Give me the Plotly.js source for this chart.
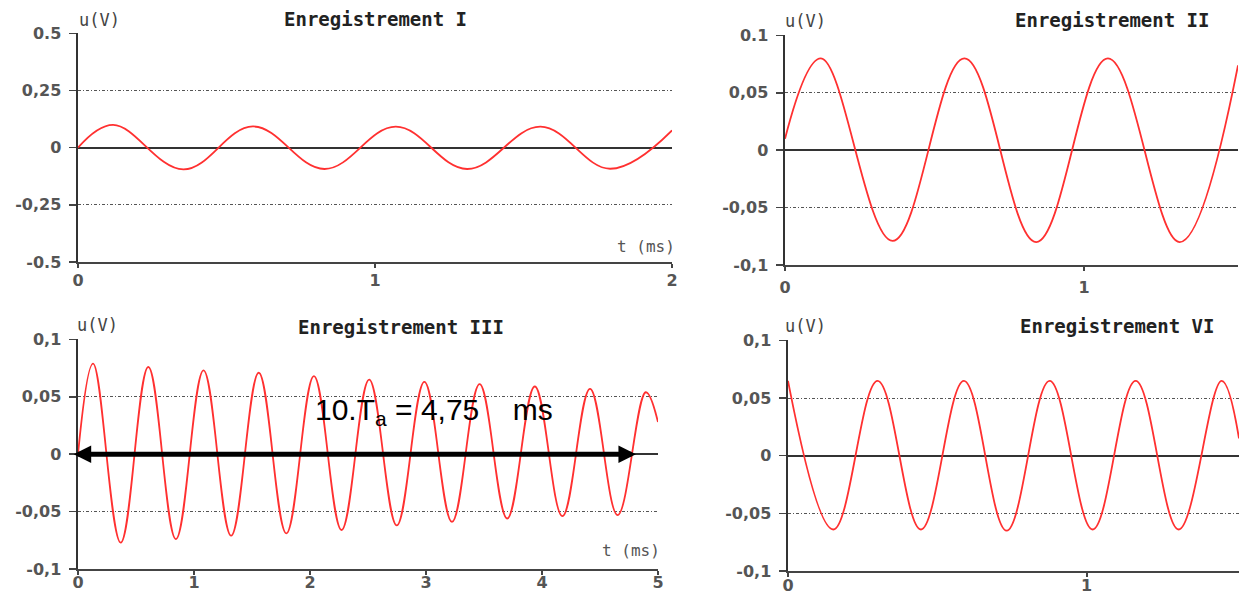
<!DOCTYPE html>
<html>
<head>
<meta charset="utf-8">
<script src="https://cdn.plot.ly/plotly-3.0.1.min.js"></script>
<style>html,body{margin:0;padding:0;background:#fff}#chart{width:1240px;height:594px}</style>
</head>
<body>
<div id="chart"></div>
<script>
// ---- Data: extrema of each recording (t in ms, u in V) ----
const tI  = [0, 0.118, 0.355, 0.589, 0.83, 1.07, 1.31, 1.557, 1.792, 2.0];
const uI  = [0, 0.100, -0.095, 0.093, -0.093, 0.092, -0.093, 0.092, -0.092, 0.076];

const tII = [0, 0.12, 0.36, 0.60, 0.84, 1.08, 1.32, 1.515];
const uII = [0.01, 0.080, -0.079, 0.080, -0.080, 0.080, -0.080, 0.074];

const tIII = [0, 0.13, 0.368, 0.606, 0.844, 1.082, 1.32, 1.558, 1.796, 2.034, 2.272, 2.51, 2.748, 2.986, 3.224, 3.462, 3.70, 3.938, 4.176, 4.414, 4.652, 4.895, 5.0];
const uIII = [0, 0.079, -0.077, 0.076, -0.074, 0.073, -0.071, 0.071, -0.069, 0.068, -0.066, 0.065, -0.062, 0.063, -0.059, 0.061, -0.056, 0.059, -0.054, 0.057, -0.053, 0.054, 0.028];

const tVI = [0, 0.152, 0.30, 0.445, 0.589, 0.732, 0.876, 1.02, 1.164, 1.308, 1.452, 1.51];
const uVI = [0.065, -0.064, 0.065, -0.064, 0.065, -0.065, 0.065, -0.064, 0.065, -0.064, 0.065, 0.015];

// tick values / labels
const xTicksI = [0, 1, 2];
const xTicksII = [0, 1];
const xTicksIII = [0, 1, 2, 3, 4, 5];
const xTicksVI = [0, 1];
const yTicksI = [-0.5, -0.25, 0, 0.25, 0.5];
const yLabelsI = ['-0.5', '-0,25', '0', '0,25', '0.5'];
const yTicksSmall = [-0.1, -0.05, 0, 0.05, 0.1];
const yLabelsII = ['-0,1', '-0,05', '0', '0,05', '0.1'];
const yLabelsIII = ['-0,1', '-0,05', '0', '0,05', '0,1'];
const yLabelsVI = ['-0,1', '-0,05', '0', '0,05', '0,1'];

const titles = ['Enregistrement I', 'Enregistrement II', 'Enregistrement III', 'Enregistrement VI'];
const yLabel = 'u(V)';
const xLabel = 't (ms)';
// measured span of the double arrow (ms) and its label
const arrowSpan = [-0.05, 4.81];
const arrowText = '10.T<sub>a</sub> = 4,75&nbsp;&nbsp;&nbsp;&nbsp;ms';

// ---- geometry helpers ----
const W = 1240, H = 594;
const PX = x => x / W;
const PY = y => 1 - y / H;

const lineColor = '#ff3030';
function tr(t, u, xa, ya) {
  return {x: t, y: u, xaxis: xa, yaxis: ya, type: 'scatter', mode: 'lines',
    line: {color: lineColor, width: 1.8, shape: 'spline', smoothing: 1.1}, hoverinfo: 'skip'};
}

const tickFont = {family: 'DejaVu Sans', size: 16, color: '#555', weight: 'bold'};
function xa(dom, range, ticks, anchor, standoff) {
  return {domain: [PX(dom[0]), PX(dom[1])], range: range, anchor: anchor,
    tickvals: ticks, ticktext: ticks.map(String), showline: true, linecolor: '#444', linewidth: 2,
    ticks: 'outside', ticklen: 4, tickwidth: 2, tickcolor: '#444', showgrid: false, zeroline: false,
    tickfont: tickFont, ticklabelstandoff: standoff, fixedrange: true};
}
function ya(dom, range, ticks, labels, anchor) {
  return {domain: [PY(dom[1]), PY(dom[0])], range: range, anchor: anchor,
    tickvals: ticks, ticktext: labels, showline: true, linecolor: '#333', linewidth: 2.5,
    ticks: 'outside', ticklen: 7, tickwidth: 1.5, tickcolor: '#444',
    showgrid: true, gridcolor: '#555', gridwidth: 1, griddash: '3px,2px,1px,2px',
    zeroline: true, zerolinecolor: '#333', zerolinewidth: 2,
    tickfont: tickFont, ticklabelstandoff: 4, fixedrange: true};
}

const data = [
  tr(tI, uI, 'x', 'y'),
  tr(tII, uII, 'x2', 'y2'),
  tr(tIII, uIII, 'x3', 'y3'),
  tr(tVI, uVI, 'x4', 'y4')
];

const titleFont = {family: 'DejaVu Sans Mono', size: 19, color: '#222', weight: 'bold'};
const uFont = {family: 'DejaVu Sans Mono', size: 17, color: '#444'};
const tFont = {family: 'DejaVu Sans Mono', size: 16, color: '#555'};

function ann(text, x, y, font, xanchor) {
  return {text: text, xref: 'paper', yref: 'paper', x: PX(x), y: PY(y), showarrow: false,
    font: font, xanchor: xanchor || 'center', yanchor: 'middle'};
}

const annotations = [
  ann(titles[0], 375, 19, titleFont),
  ann(titles[1], 1112, 20, titleFont),
  ann(titles[2], 401, 327, titleFont),
  ann(titles[3], 1117, 326, titleFont),
  ann(yLabel, 99, 20, uFont),
  ann(yLabel, 805, 21, uFont),
  ann(yLabel, 97, 325, uFont),
  ann(yLabel, 805, 326, uFont),
  ann(xLabel, 646, 246, tFont),
  ann(xLabel, 631, 550, tFont),
  {text: arrowText, xref: 'paper', yref: 'paper', x: PX(313), y: PY(411), showarrow: false,
    xanchor: 'left', yanchor: 'middle', font: {family: 'Liberation Sans, Arial', size: 30, color: '#000'}},
  {text: '', x: arrowSpan[1], y: 0, ax: arrowSpan[0], ay: 0, xref: 'x3', yref: 'y3', axref: 'x3', ayref: 'y3',
    showarrow: true, arrowhead: 2, startarrowhead: 2, arrowside: 'end+start', arrowsize: 0.7, startarrowsize: 0.7,
    arrowwidth: 5, arrowcolor: '#000', standoff: 0, startstandoff: 0}
];

const layout = {
  width: W, height: H,
  margin: {l: 0, r: 0, t: 0, b: 0},
  paper_bgcolor: '#fff', plot_bgcolor: '#fff',
  showlegend: false,
  xaxis: xa([78, 672], [0, 2], xTicksI, 'y', -1),
  yaxis: ya([33, 262], [-0.5, 0.502], yTicksI, yLabelsI, 'x'),
  xaxis2: xa([785, 1238], [0, 1.515], xTicksII, 'y2', 3),
  yaxis2: ya([35, 265], [-0.1, 0.1004], yTicksSmall, yLabelsII, 'x2'),
  xaxis3: xa([78, 658], [0, 5], xTicksIII, 'y3', -6),
  yaxis3: ya([339, 569], [-0.1, 0.1004], yTicksSmall, yLabelsIII, 'x3'),
  xaxis4: xa([788, 1239], [0, 1.51], xTicksVI, 'y4', -5),
  yaxis4: ya([340, 571], [-0.1, 0.1004], yTicksSmall, yLabelsVI, 'x4'),
  annotations: annotations
};

Plotly.newPlot('chart', data, layout, {displayModeBar: false, staticPlot: true});
</script>
</body>
</html>
